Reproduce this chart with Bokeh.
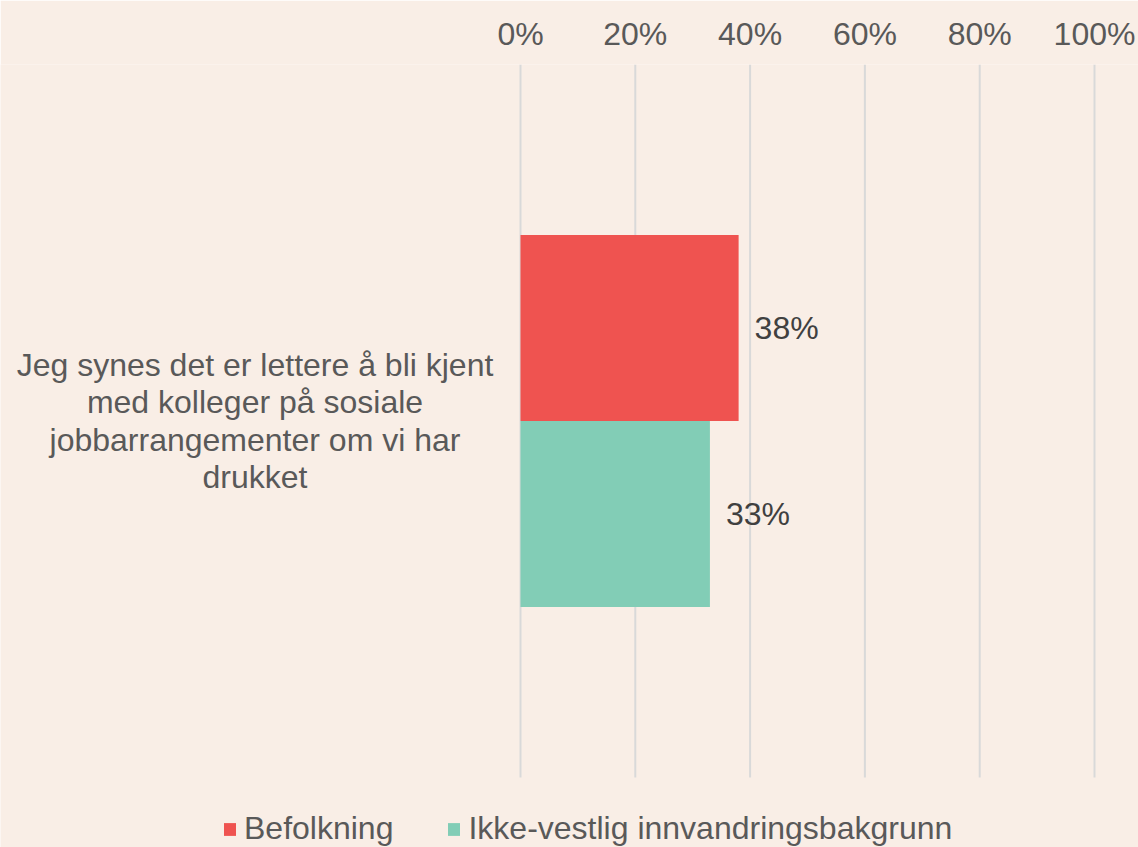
from bokeh.plotting import figure
from bokeh.models import (Range1d, Legend, LegendItem,
                          NumeralTickFormatter, FixedTicker, ColumnDataSource)
from bokeh.embed import file_html
from bokeh.resources import INLINE
from bokeh.core.properties import value

# ---- data ----
categories = ["Jeg synes det er lettere å bli kjent med kolleger på sosiale jobbarrangementer om vi har drukket"]
category_lines = ["Jeg synes det er lettere å bli kjent",
                  "med kolleger på sosiale",
                  "jobbarrangementer om vi har",
                  "drukket"]
series_names = ["Befolkning", "Ikke-vestlig innvandringsbakgrunn"]
befolkning = [0.38]
ikke_vestlig = [0.33]
x_ticks = [0, 0.2, 0.4, 0.6, 0.8, 1.0]
colors = ["#EF5350", "#82CDB6"]

BG = "#F9EEE6"
FONT = "Liberation Sans"
W, H = 1138, 847
TOP = 64
# horizontal layout: value 0 at px 520, value 1 at px 1094
PX0, PX1 = 520, 1094
PPU = PX1 - PX0
X_START = -PX0 / PPU
X_END = 1 + (W - PX1) / PPU
LABEL_X = (254.5 - PX0) / PPU
# vertical layout: category band (-0.5 .. 0.5) spans px 64..777, legend strip below
BAND_PX = 777 - TOP
Y_END = 0.5
Y_START = -0.5 - (H - 777) / BAND_PX

pos = list(range(len(categories)))
src = ColumnDataSource(dict(
    pos=pos,
    txt=["\n".join(category_lines)],
    b=befolkning,
    v=ikke_vestlig,
    bl=[f"{round(x*100)}%" for x in befolkning],
    vl=[f"{round(x*100)}%" for x in ikke_vestlig],
))
grid_src = ColumnDataSource(dict(gx=x_ticks))

p = figure(width=W, height=H, output_backend="svg", toolbar_location=None,
           y_range=Range1d(Y_START, Y_END),
           x_range=Range1d(X_START, X_END), x_axis_location="above",
           min_border_left=0, min_border_right=0,
           min_border_top=TOP, min_border_bottom=0)
p.background_fill_color = BG
p.border_fill_color = BG
p.outline_line_color = None

# vertical gridlines limited to the category band
p.segment(x0="gx", x1="gx", y0=-0.5, y1=0.5, source=grid_src,
          line_color="#D9D9D9", line_width=2)

bar_h = 0.261
off = bar_h / 2
src.data["yb"] = [y + off for y in pos]
src.data["yv"] = [y - off for y in pos]
r1 = p.hbar(y="yb", left=0, right="b", height=bar_h,
            fill_color=colors[0], line_color=None, source=src)
r2 = p.hbar(y="yv", left=0, right="v", height=bar_h,
            fill_color=colors[1], line_color=None, source=src)

p.text(x="b", y="yb", text="bl", source=src,
       x_offset=16, text_baseline="middle", text_align="left",
       text_font=value(FONT), text_font_size="32px", text_color="#404040")
p.text(x="v", y="yv", text="vl", source=src,
       x_offset=16, text_baseline="middle", text_align="left",
       text_font=value(FONT), text_font_size="32px", text_color="#404040")

# category label
p.text(x=LABEL_X, y="pos", text="txt", source=src,
       text_align="center", text_baseline="middle", text_line_height=1.04,
       text_font=value(FONT), text_font_size="32px", text_color="#595959")

# axes
p.yaxis.visible = False
p.ygrid.grid_line_color = None
p.xgrid.grid_line_color = None
xa = p.xaxis[0]
xa.ticker = FixedTicker(ticks=x_ticks)
xa.formatter = NumeralTickFormatter(format="0%")
xa.axis_line_color = None
xa.major_tick_line_color = None
xa.minor_tick_line_color = None
xa.major_tick_out = 0
xa.major_tick_in = 0
xa.major_label_standoff = 13
xa.major_label_text_font = FONT
xa.major_label_text_font_size = "32px"
xa.major_label_text_color = "#595959"

legend = Legend(items=[LegendItem(label=series_names[0], renderers=[r1]),
                       LegendItem(label=series_names[1], renderers=[r2])],
                orientation="horizontal", location=(222, 0),
                label_text_font=FONT, label_text_font_size="32px",
                label_text_color="#595959", glyph_width=15, glyph_height=16,
                label_standoff=7, spacing=53, padding=0, margin=0,
                background_fill_alpha=0, border_line_alpha=0)
p.add_layout(legend, "center")

open("out.html", "w").write(file_html(p, INLINE))
